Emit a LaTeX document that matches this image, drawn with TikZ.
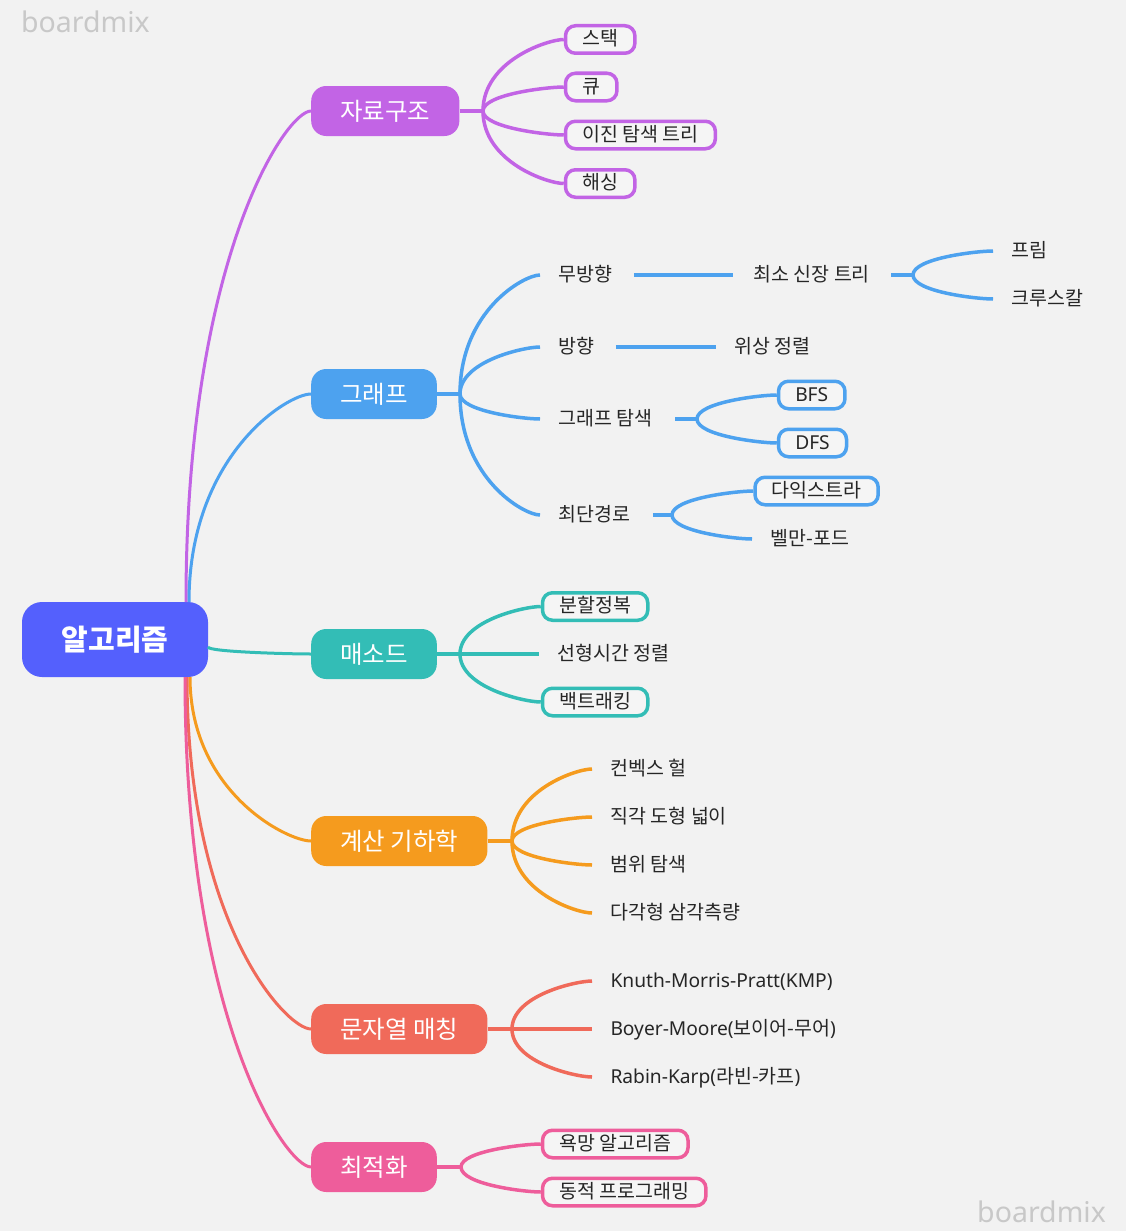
\documentclass[tikz,border=0pt]{standalone}
\usepackage{fontspec}
\setmainfont{Noto Sans CJK KR}
\newfontfamily\latfont{Noto Sans}
\usetikzlibrary{calc}
\definecolor{bgc}{HTML}{F2F2F2}
\definecolor{boxc}{HTML}{F5F5F5}
\definecolor{rootc}{HTML}{5460FD}
\definecolor{cpurp}{HTML}{C264E5}
\definecolor{cblue}{HTML}{4DA2EF}
\definecolor{cteal}{HTML}{33BDB6}
\definecolor{coran}{HTML}{F59B1E}
\definecolor{ccoral}{HTML}{F06A5A}
\definecolor{cpink}{HTML}{EE5D9B}
\definecolor{ctxt}{HTML}{262626}
\definecolor{cwm}{HTML}{C8C8C8}
\newcommand\lat[1]{{\latfont\fontsize{19.2}{22}\selectfont #1}}
\newcommand\conn[3]{\draw[#1] (#2) .. controls ($(#2)!0.7!(#2|-#3)$) and ($(#3)!0.2!(#2|-#3)$) .. (#3);}
\tikzset{
  rootnode/.style={fill=rootc, rounded corners=20pt, text=white, minimum width=186pt, minimum height=75pt,
    font=\fontsize{29}{32}\selectfont\bfseries, text height=22pt, text depth=1pt},
  mainnode/.style={anchor=west, rounded corners=15pt, minimum height=50pt, inner xsep=29pt, inner ysep=0pt,
    text=white, font=\fontsize{24.5}{27}\selectfont, text height=20pt, text depth=2pt},
  leaf/.style={anchor=west, font=\fontsize{19.5}{22}\selectfont, text=ctxt, inner xsep=16.75pt, inner ysep=0pt,
    minimum height=27.5pt, text height=14pt, text depth=2pt, rounded corners=10pt, line width=3.5pt},
  boxed/.style={leaf, draw=#1, fill=boxc},
  rootlink/.style={line width=3pt, draw=#1},
  sublink/.style={line width=3.5pt, draw=#1},
  wmark/.style={font=\latfont\fontsize{28.5}{30}\selectfont, text=cwm, inner sep=0pt}
}
\begin{document}
\begin{tikzpicture}[x=1pt,y=-1pt]
\fill[bgc] (0,0) rectangle (1126,1231);
\useasboundingbox (0,0) rectangle (1126,1231);

\node[wmark, anchor=west] (wm1) at (21,22) {boardmix};
\node[wmark, anchor=east] (wm2) at (1106,1212) {boardmix};

% root
\node[rootnode] (root) at (115,639.5) {알고리즘};
\coordinate (rp) at (186,602);
\coordinate (rb) at (189,602);
\coordinate (rt) at (208,647);
\coordinate (ro) at (190,677);
\coordinate (rc) at (187,677);
\coordinate (rk) at (185,677);

% main nodes
\node[mainnode, fill=cpurp] (ds) at (311,111) {자료구조};
\node[mainnode, fill=cblue] (gr) at (311,394) {그래프};
\node[mainnode, fill=cteal] (me) at (311,654) {매소드};
\node[mainnode, fill=coran] (cg) at (311,841) {계산 기하학};
\node[mainnode, fill=ccoral] (sm) at (311,1029) {문자열 매칭};
\node[mainnode, fill=cpink] (op) at (311,1167) {최적화};

\conn{rootlink=cpurp}{rp}{ds.west}
\conn{rootlink=cblue}{rb}{gr.west}
\conn{rootlink=cteal}{rt}{me.west}
\conn{rootlink=coran}{ro}{cg.west}
\conn{rootlink=ccoral}{rc}{sm.west}
\conn{rootlink=cpink}{rk}{op.west}

% ---------- 자료구조
\coordinate (f1) at (483,111);
\node[boxed=cpurp] (d1) at (563.75,39.5) {스택};
\node[boxed=cpurp] (d2) at (563.75,87) {큐};
\node[boxed=cpurp] (d3) at (563.75,135) {이진 탐색 트리};
\node[boxed=cpurp] (d4) at (563.75,183.5) {해싱};
\draw[sublink=cpurp] (ds.east) -- (f1);
\conn{sublink=cpurp}{f1}{d1.west}
\conn{sublink=cpurp}{f1}{d2.west}
\conn{sublink=cpurp}{f1}{d3.west}
\conn{sublink=cpurp}{f1}{d4.west}

% ---------- 그래프
\coordinate (f2) at (460,394);
\node[leaf] (g1) at (540,275) {무방향};
\node[leaf] (g2) at (540,347) {방향};
\node[leaf] (g3) at (540,419) {그래프 탐색};
\node[leaf] (g4) at (540,515) {최단경로};
\draw[sublink=cblue] (gr.east) -- (f2);
\conn{sublink=cblue}{f2}{g1.west}
\conn{sublink=cblue}{f2}{g2.west}
\conn{sublink=cblue}{f2}{g3.west}
\conn{sublink=cblue}{f2}{g4.west}

\node[leaf] (mst) at (735,275) {최소 신장 트리};
\draw[sublink=cblue, shorten <=3pt, shorten >=2pt] (g1.east) -- (mst.west);
\coordinate (f3) at (913,275);
\node[leaf] (pr) at (993,251) {프림};
\node[leaf] (kr) at (993,299) {크루스칼};
\draw[sublink=cblue, shorten <=3pt] (mst.east) -- (f3);
\conn{sublink=cblue}{f3}{pr.west}
\conn{sublink=cblue}{f3}{kr.west}

\node[leaf] (ts) at (716,347) {위상 정렬};
\draw[sublink=cblue, shorten <=3pt] (g2.east) -- (ts.west);

\coordinate (f4) at (697,419);
\node[boxed=cblue] (bfs) at (776.75,395) {\lat{BFS}};
\node[boxed=cblue] (dfs) at (776.75,443) {\lat{DFS}};
\draw[sublink=cblue, shorten <=4pt] (g3.east) -- (f4);
\conn{sublink=cblue}{f4}{bfs.west}
\conn{sublink=cblue}{f4}{dfs.west}

\coordinate (f5) at (672,515);
\node[boxed=cblue] (dij) at (753.25,491) {다익스트라};
\node[leaf] (bf) at (752,539) {벨만-포드};
\draw[sublink=cblue, shorten <=4pt] (g4.east) -- (f5);
\conn{sublink=cblue}{f5}{dij.west}
\conn{sublink=cblue}{f5}{bf.west}

% ---------- 매소드
\coordinate (f6) at (460,654);
\node[boxed=cteal] (m1) at (540.75,606.5) {분할정복};
\node[leaf] (m2) at (539,654) {선형시간 정렬};
\node[boxed=cteal] (m3) at (540.75,702) {백트래킹};
\draw[sublink=cteal] (me.east) -- (f6);
\conn{sublink=cteal}{f6}{m1.west}
\conn{sublink=cteal}{f6}{m2.west}
\conn{sublink=cteal}{f6}{m3.west}

% ---------- 계산 기하학
\coordinate (f7) at (512,841);
\node[leaf] (c1) at (592,769) {컨벡스 헐};
\node[leaf] (c2) at (592,817) {직각 도형 넓이};
\node[leaf] (c3) at (592,865) {범위 탐색};
\node[leaf] (c4) at (592,913) {다각형 삼각측량};
\draw[sublink=coran] (cg.east) -- (f7);
\conn{sublink=coran}{f7}{c1.west}
\conn{sublink=coran}{f7}{c2.west}
\conn{sublink=coran}{f7}{c3.west}
\conn{sublink=coran}{f7}{c4.west}

% ---------- 문자열 매칭
\coordinate (f8) at (512,1029);
\node[leaf] (s1) at (592,981) {\lat{Knuth-Morris-Pratt(KMP)}};
\node[leaf] (s2) at (592,1029) {\lat{Boyer-Moore(}보이어-무어\lat{)}};
\node[leaf] (s3) at (592,1077) {\lat{Rabin-Karp(}라빈-카프\lat{)}};
\draw[sublink=ccoral] (sm.east) -- (f8);
\conn{sublink=ccoral}{f8}{s1.west}
\conn{sublink=ccoral}{f8}{s2.west}
\conn{sublink=ccoral}{f8}{s3.west}

% ---------- 최적화
\coordinate (f9) at (461,1167);
\node[boxed=cpink] (o1) at (540.75,1144) {욕망 알고리즘};
\node[boxed=cpink] (o2) at (540.75,1192) {동적 프로그래밍};
\draw[sublink=cpink] (op.east) -- (f9);
\conn{sublink=cpink}{f9}{o1.west}
\conn{sublink=cpink}{f9}{o2.west}
\end{tikzpicture}
\end{document}
